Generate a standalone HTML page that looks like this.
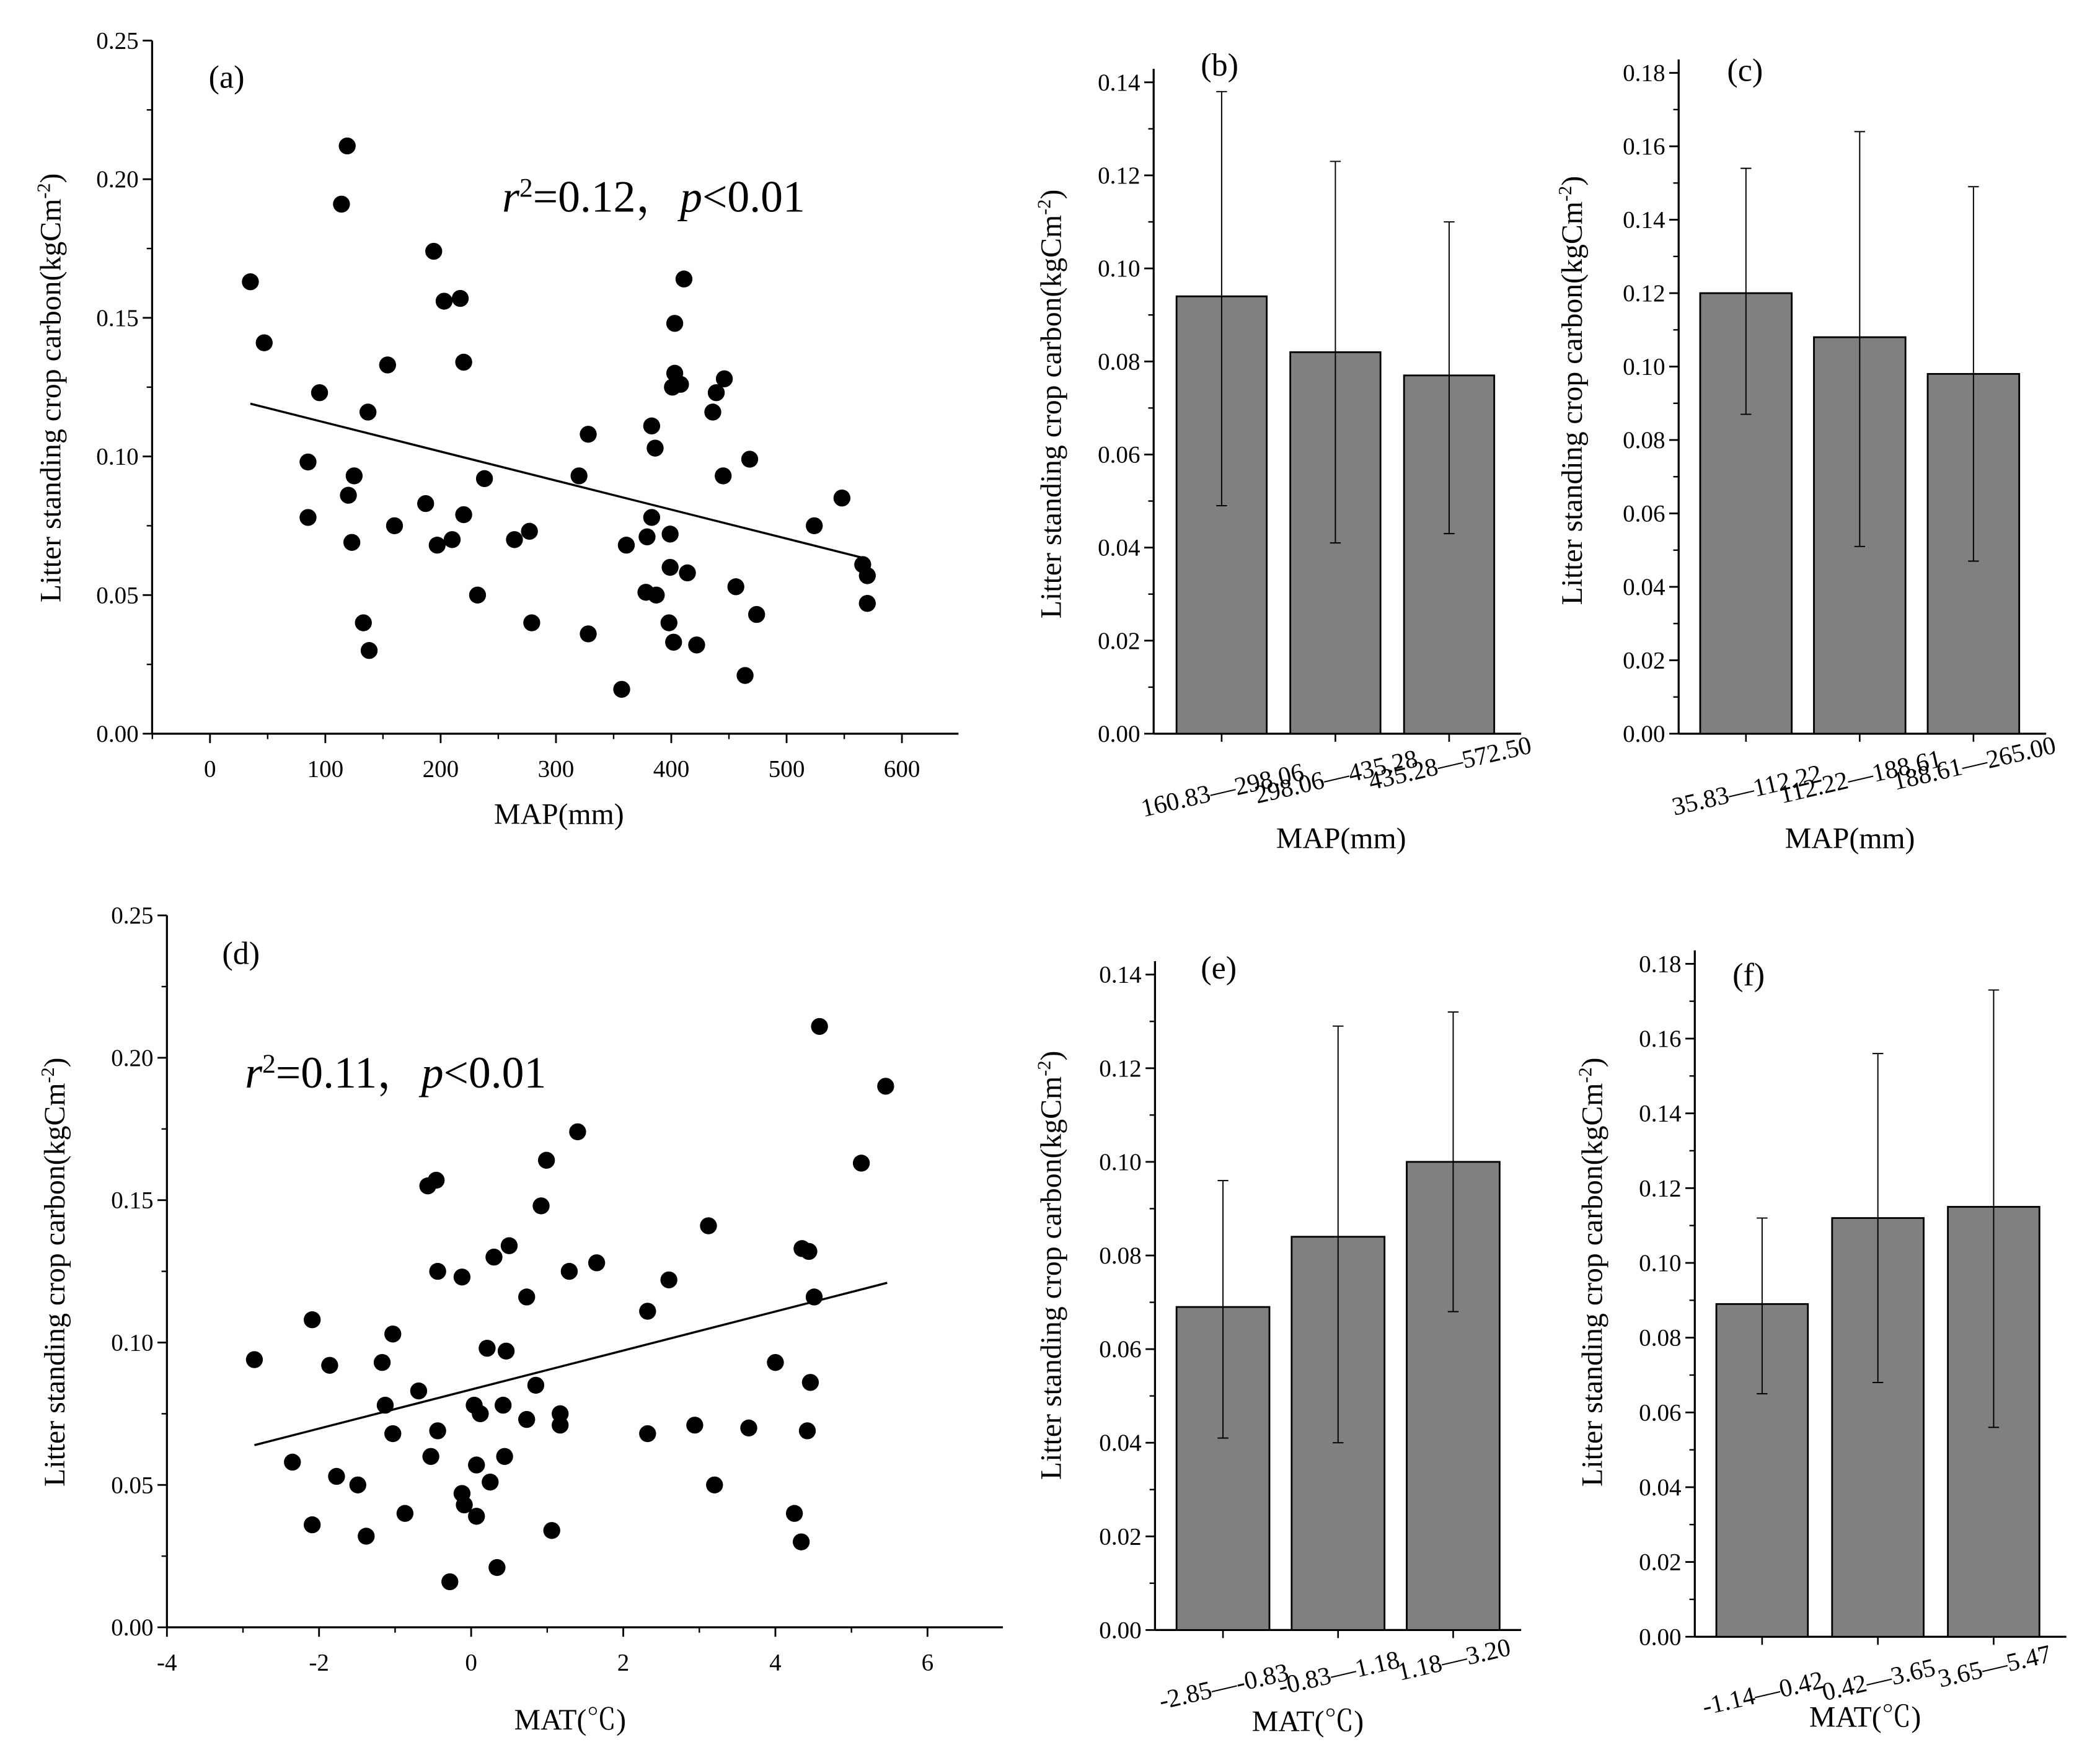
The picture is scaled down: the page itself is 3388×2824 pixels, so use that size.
<!DOCTYPE html>
<html><head><meta charset="utf-8"><style>
html,body{margin:0;padding:0;background:#fff}
svg{display:block}
text{font-family:"Liberation Serif","Noto Serif CJK SC",serif;fill:#000}
</style></head><body>
<svg id="fig" xmlns="http://www.w3.org/2000/svg" width="3388" height="2824" viewBox="0 0 1560 1300"></svg>
<script>
// ---- Panel (a) data: MAP vs litter carbon ----
const mapX = [35,47,119,114,95,85,85,120,125,123,133,138,137,154,160,194,203,217,220,187,197,210,220,238,232,264,277,279,328,320,328,357,361,383,386,383,379,378,387,399,399,398,402,403,403,401,408,411,414,422,436,439,446,445,456,468,474,464,524,548,566,570,570];
const mapY = [0.163,0.141,0.212,0.191,0.123,0.098,0.078,0.086,0.093,0.069,0.040,0.030,0.116,0.133,0.075,0.174,0.156,0.157,0.134,0.083,0.068,0.070,0.079,0.092,0.050,0.070,0.073,0.040,0.108,0.093,0.036,0.016,0.068,0.111,0.103,0.078,0.071,0.051,0.050,0.060,0.072,0.040,0.033,0.148,0.130,0.125,0.126,0.164,0.058,0.032,0.116,0.123,0.128,0.093,0.053,0.099,0.043,0.021,0.075,0.085,0.061,0.057,0.047];
const fitA = [0.1227, -0.0001047];
const fitARange = [35, 570];
// ---- Panel (d) data: MAT vs litter carbon ----
const matX = [-2.85,-2.35,-2.09,-1.86,-2.09,-1.77,-1.49,-1.38,-1.17,-1.13,-1.03,-1.03,-0.87,-0.69,-0.57,-0.46,-0.44,-0.44,-0.53,-0.28,-0.12,-0.12,-0.09,0.04,0.12,0.07,0.07,0.21,0.25,0.30,0.50,0.46,0.42,0.44,0.34,0.73,0.73,0.85,0.92,0.99,1.17,1.17,1.06,1.29,1.40,1.65,2.32,2.32,2.60,2.94,3.12,3.20,3.65,4.00,4.25,4.34,4.35,4.44,4.42,4.46,4.51,4.58,5.13,5.45];
const matY = [0.094,0.058,0.108,0.092,0.036,0.053,0.050,0.032,0.093,0.078,0.103,0.068,0.040,0.083,0.155,0.157,0.125,0.069,0.060,0.016,0.123,0.047,0.043,0.078,0.075,0.057,0.039,0.098,0.051,0.130,0.134,0.097,0.078,0.060,0.021,0.116,0.073,0.085,0.148,0.164,0.071,0.075,0.034,0.125,0.174,0.128,0.068,0.111,0.122,0.071,0.141,0.050,0.070,0.093,0.040,0.030,0.133,0.132,0.069,0.086,0.116,0.211,0.163,0.190];
const fitD = [0.0835, 0.00685];
const fitDRange = [-2.85, 5.47];
// ---- Bar panels ----
const catsB = ["160.83—298.06","298.06—435.28","435.28—572.50"];
const valsB = [0.094,0.082,0.077];
const hiB = [0.138,0.123,0.110];
const loB = [0.049,0.041,0.043];
const catsC = ["35.83—112.22","112.22—188.61","188.61—265.00"];
const valsC = [0.120,0.108,0.098];
const hiC = [0.154,0.164,0.149];
const loC = [0.087,0.051,0.047];
const catsE = ["-2.85—-0.83","-0.83—1.18","1.18—3.20"];
const valsE = [0.069,0.084,0.100];
const hiE = [0.096,0.129,0.132];
const loE = [0.041,0.040,0.068];
const catsF = ["-1.14—0.42","0.42—3.65","3.65—5.47"];
const valsF = [0.089,0.112,0.115];
const hiF = [0.112,0.156,0.173];
const loF = [0.065,0.068,0.056];
const yTicks25 = [0,0.05,0.10,0.15,0.20,0.25];
const yTicks14 = [0,0.02,0.04,0.06,0.08,0.10,0.12,0.14];
const yTicks18 = [0,0.02,0.04,0.06,0.08,0.10,0.12,0.14,0.16,0.18];
const xTicksA = [0,100,200,300,400,500,600];
const xTicksD = [-4,-2,0,2,4,6];

const NS="http://www.w3.org/2000/svg";
const svg=document.getElementById('fig');
function mk(tag,attrs,parent,txt){const e=document.createElementNS(NS,tag);for(const k in attrs)e.setAttribute(k,attrs[k]);if(txt!==undefined)e.textContent=txt;(parent||svg).appendChild(e);return e;}
function lin(d0,d1,r0,r1){return v=>r0+(v-d0)/(d1-d0)*(r1-r0);}

function yAxis(g,x,yb,yt,ys,ticks,dec,y0){
  const ax=mk('line',{x1:x,y1:yb,x2:x,y2:yt,stroke:'#000','stroke-width':1.5},g);
  
  for(let i=0;i<ticks.length;i++){const v=ticks[i];const y=ys(v);
    mk('line',{x1:x-7,y1:y,x2:x,y2:y,stroke:'#000','stroke-width':1.3},g);
    const t=mk('text',{x:x-10,y:y+6,'text-anchor':'end','font-size':18},g,v.toFixed(dec));
    
    if(i<ticks.length-1){const ym=ys((v+ticks[i+1])/2);mk('line',{x1:x-4,y1:ym,x2:x,y2:ym,stroke:'#000','stroke-width':1.1},g);}
  }
}
function yTitle(g,x,y){
  const t=mk('text',{x:x,y:y,'text-anchor':'middle','font-size':22,transform:`rotate(-90 ${x} ${y})`},g);
  
  t.appendChild(document.createTextNode('Litter standing crop carbon(kgCm'));
  mk('tspan',{'baseline-shift':'super','font-size':14},t,'-2');
  t.appendChild(document.createTextNode(')'));
}
function label(g,x,y,s,name,size){const t=mk('text',{x:x,y:y,'font-size':size||24},g,s);return t;}

function scatter(name,o){
  const g=mk('g',{});
  const xs=lin(o.xd[0],o.xd[1],o.xr[0],o.xr[1]), ys=lin(0,0.25,o.y0,o.y25);
  yAxis(g,o.ax,o.y0,o.y25,ys,yTicks25,2);
  const xl=mk('line',{x1:o.ax,y1:o.y0,x2:o.axEnd,y2:o.y0,stroke:'#000','stroke-width':1.5},g);
  
  const st=o.xt[1]-o.xt[0];
  for(let i=0;i<o.xt.length;i++){const v=o.xt[i],x=xs(v);
    mk('line',{x1:x,y1:o.y0,x2:x,y2:o.y0+7,stroke:'#000','stroke-width':1.3},g);
    const t=mk('text',{x:x,y:o.y0+32,'text-anchor':'middle','font-size':18},g,String(v));
    
  }
  for(let v=o.xt[0]-st/2;xs(v)<=o.axEnd;v+=st){const x=xs(v);if(x>=o.ax)mk('line',{x1:x,y1:o.y0,x2:x,y2:o.y0+4,stroke:'#000','stroke-width':1.1},g);}
  for(let i=0;i<o.X.length;i++){const c=mk('circle',{cx:xs(o.X[i]),cy:ys(o.Y[i]),r:6.3,fill:'#000'},g);
    }
  const f=o.fit,r=o.fr;
  const fl=mk('line',{x1:xs(r[0]),y1:ys(f[0]+f[1]*r[0]),x2:xs(r[1]),y2:ys(f[0]+f[1]*r[1]),stroke:'#000','stroke-width':1.6},g);
  
  return g;
}
function bars(name,o){
  const g=mk('g',{});
  const ys=lin(0,o.ymax,o.y0,o.ytop);
  yAxis(g,o.ax,o.y0,o.ytop-10,ys,o.ticks,2);
  const xl=mk('line',{x1:o.ax,y1:o.y0,x2:o.axEnd,y2:o.y0,stroke:'#000','stroke-width':1.5},g);
  
  for(let i=0;i<o.vals.length;i++){
    const x=o.b0+i*o.step, cx=x+o.bw/2;
    const r=mk('rect',{x:x,y:ys(o.vals[i]),width:o.bw,height:o.y0-ys(o.vals[i]),fill:'#808080',stroke:'#000','stroke-width':1.3},g);
    
    const e=mk('path',{d:`M${cx},${ys(o.hi[i])}V${ys(o.lo[i])}M${cx-4},${ys(o.hi[i])}H${cx+4}M${cx-4},${ys(o.lo[i])}H${cx+4}`,stroke:'#000','stroke-width':0.9,fill:'none'},g);
    
    mk('line',{x1:cx,y1:o.y0,x2:cx,y2:o.y0+6,stroke:'#000','stroke-width':1.2},g);
    const tx=cx+2, ty=o.y0+48-i*10;
    const t=mk('text',{x:tx,y:ty,'text-anchor':'middle','font-size':19,transform:`rotate(-13 ${tx} ${ty})`},g,o.cats[i]);
    
  }
  return g;
}

const ga=scatter('panel-a',{X:mapX,Y:mapY,fit:fitA,fr:fitARange,xd:[0,600],xr:[156,670],y0:545,y25:30,ax:113,axEnd:712,xt:xTicksA});
label(ga,155,65,'(a)','panel-label');
yTitle(ga,45,288);
label(ga,367,612,'MAP(mm)','x-axis-title',22);
{const t=mk('text',{x:373,y:157,'font-size':33},ga);
 mk('tspan',{'font-style':'italic'},t,'r');mk('tspan',{'baseline-shift':'super','font-size':20},t,'2');
 t.appendChild(document.createTextNode('=0.12，'));mk('tspan',{'font-style':'italic'},t,'p');t.appendChild(document.createTextNode('<0.01'));}

const gd=scatter('panel-d',{X:matX,Y:matY,fit:fitD,fr:fitDRange,xd:[-4,6],xr:[124,689],y0:1209,y25:680,ax:124,axEnd:745,xt:xTicksD});
label(gd,165,716,'(d)','panel-label');
yTitle(gd,48,945);
label(gd,382,1285,'MAT(℃)','x-axis-title',22);
{const t=mk('text',{x:182,y:808,'font-size':33},gd);
 mk('tspan',{'font-style':'italic'},t,'r');mk('tspan',{'baseline-shift':'super','font-size':20},t,'2');
 t.appendChild(document.createTextNode('=0.11，'));mk('tspan',{'font-style':'italic'},t,'p');t.appendChild(document.createTextNode('<0.01'));}

const gb=bars('panel-b',{cats:catsB,vals:valsB,hi:hiB,lo:loB,ymax:0.14,ticks:yTicks14,y0:545,ytop:61,ax:857,axEnd:1130,b0:874,bw:67,step:84.5});
label(gb,892,56,'(b)','panel-label');yTitle(gb,788,300);label(gb,948,630,'MAP(mm)','x-axis-title',22);
const gc=bars('panel-c',{cats:catsC,vals:valsC,hi:hiC,lo:loC,ymax:0.18,ticks:yTicks18,y0:545,ytop:54,ax:1247,axEnd:1520,b0:1263,bw:68,step:84.5});
label(gc,1283,60,'(c)','panel-label');yTitle(gc,1175,290);label(gc,1326,630,'MAP(mm)','x-axis-title',22);
const ge=bars('panel-e',{cats:catsE,vals:valsE,hi:hiE,lo:loE,ymax:0.14,ticks:yTicks14,y0:1211,ytop:724,ax:858,axEnd:1130,b0:874,bw:69,step:85.5});
label(ge,892,727,'(e)','panel-label');yTitle(ge,788,940);label(ge,930,1286,'MAT(℃)','x-axis-title',22);
const gf=bars('panel-f',{cats:catsF,vals:valsF,hi:hiF,lo:loF,ymax:0.18,ticks:yTicks18,y0:1216,ytop:716,ax:1259,axEnd:1535,b0:1275,bw:68,step:86});
label(gf,1287,732,'(f)','panel-label');yTitle(gf,1190,945);label(gf,1344,1283,'MAT(℃)','x-axis-title',22);
</script>
</body></html>
